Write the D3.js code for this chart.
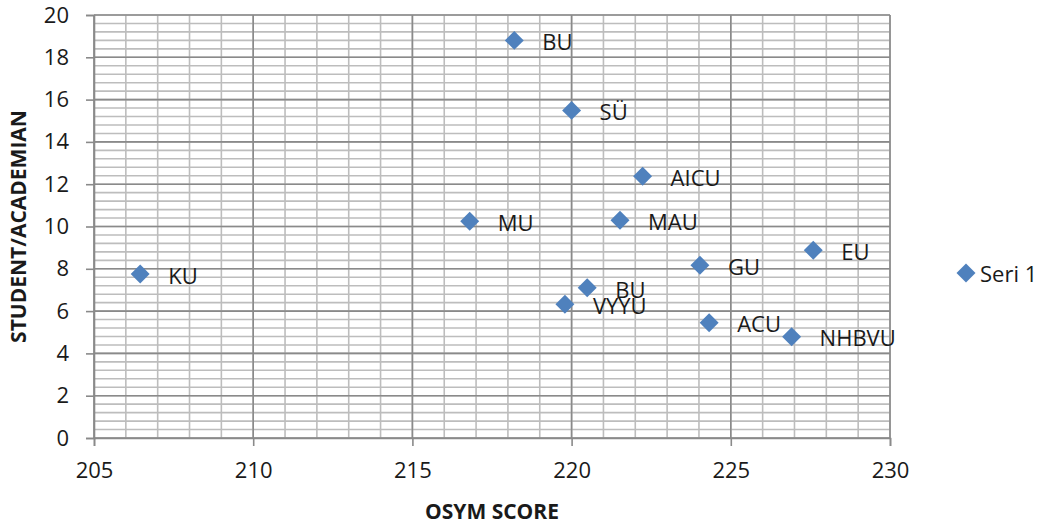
<!DOCTYPE html>
<html><head><meta charset="utf-8">
<script src="https://cdn.jsdelivr.net/npm/d3@7"></script>
<style>
body{margin:0;background:#fff;}
text{font-family:"Open Sans",sans-serif;fill:#1a1a1a;}
</style></head>
<body><svg id="chart" width="1042" height="526"></svg>
<script>
const labels = ["KU","MU","BU","SÜ","AICU","MAU","GU","EU","BU","VYYU","ACU","NHBVU"];
const osymScore = [206.45,216.8,218.2,220.0,222.23,221.52,224.03,227.59,220.49,219.79,224.32,226.91];
const studentPerAcademian = [7.75,10.25,18.8,15.49,12.38,10.3,8.17,8.88,7.1,6.32,5.45,4.79];
const xTicks = [205,210,215,220,225,230];
const yTicks = [0,2,4,6,8,10,12,14,16,18,20];
const seriesName = "Seri 1";
const xTitle = "OSYM SCORE";
const yTitle = "STUDENT/ACADEMIAN";

const svg = d3.select("#chart");
const L = 94, R = 890, T = 15, B = 438;
const x = d3.scaleLinear().domain([205,230]).range([L,R]);
const y = d3.scaleLinear().domain([0,20]).range([B,T]);

const g = svg.append("g");
// minor grid
const xMinor = d3.range(205,230.001,1);
const yMinor = d3.range(0,20.001,0.4);
g.selectAll(".vmin").data(xMinor).join("line")
  .attr("x1",d=>x(d)).attr("x2",d=>x(d)).attr("y1",T).attr("y2",B)
  .attr("stroke","#bdbdbd").attr("stroke-width",1.6);
g.selectAll(".hmin").data(yMinor).join("line")
  .attr("y1",d=>y(d)).attr("y2",d=>y(d)).attr("x1",L).attr("x2",R)
  .attr("stroke","#bdbdbd").attr("stroke-width",1.6);
// major grid
g.selectAll(".vmaj").data(xTicks).join("line")
  .attr("x1",d=>x(d)).attr("x2",d=>x(d)).attr("y1",T).attr("y2",B)
  .attr("stroke","#8a8a8a").attr("stroke-width",1.6);
g.selectAll(".hmaj").data(yTicks).join("line")
  .attr("y1",d=>y(d)).attr("y2",d=>y(d)).attr("x1",L).attr("x2",R)
  .attr("stroke","#8a8a8a").attr("stroke-width",1.6);

// axes
const xAxis = d3.axisBottom(x).tickValues(xTicks).tickSize(8).tickPadding(16).tickFormat(d3.format("d"));
const yAxis = d3.axisLeft(y).tickValues(yTicks).tickSize(8).tickPadding(17).tickFormat(d3.format("d"));
const gx = svg.append("g").attr("transform",`translate(0,${B})`).call(xAxis);
const gy = svg.append("g").attr("transform",`translate(${L},0)`).call(yAxis);
[gx,gy].forEach(a=>{
  a.select(".domain").attr("stroke","#8a8a8a").attr("stroke-width",1.6);
  a.selectAll(".tick line").attr("stroke","#8a8a8a").attr("stroke-width",1.6);
  a.selectAll(".tick text").attr("font-size",22).attr("font-family","Open Sans").attr("fill","#1a1a1a");
});

// points
const data = labels.map((l,i)=>({l, x:osymScore[i], y:studentPerAcademian[i]}));
const sym = d3.symbol().type(d3.symbolSquare).size(180);
svg.selectAll(".pt").data(data).join("path")
  .attr("d",sym).attr("transform",d=>`translate(${x(d.x)},${y(d.y)}) rotate(45)`)
  .attr("fill","#4f81bd");
svg.selectAll(".lbl").data(data).join("text")
  .attr("x",d=>x(d.x)+28).attr("y",d=>y(d.y)+2).attr("dy","0.35em")
  .attr("font-size",22).text(d=>d.l);

// legend
svg.append("path").attr("d",sym).attr("transform","translate(966,273) rotate(45)").attr("fill","#4f81bd");
svg.append("text").attr("x",980).attr("y",274).attr("dy","0.35em").attr("font-size",22).text(seriesName);

// titles
svg.append("text").attr("x",(L+R)/2).attr("y",512).attr("dy","0.35em").attr("text-anchor","middle")
  .attr("font-size",21).attr("font-weight","bold").text(xTitle);
svg.append("text").attr("transform",`translate(19,${(T+B)/2}) rotate(-90)`).attr("dy","0.35em")
  .attr("text-anchor","middle").attr("font-size",21).attr("font-weight","bold").text(yTitle);
</script></body></html>
